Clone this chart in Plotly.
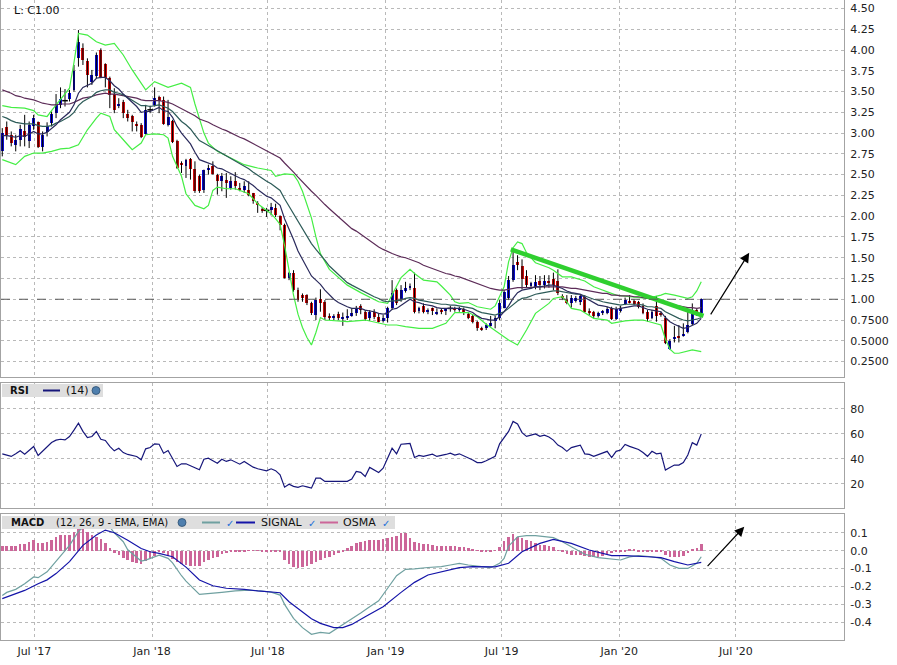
import numpy as np
import pandas as pd
import plotly.graph_objects as go

START = pd.Timestamp("2017-05-12")   # first weekly bar

opens = [2.78,3.07,2.98,2.86,2.92,3.03,2.90,3.08,3.13,2.83,
3.01,3.12,3.24,3.34,3.39,3.41,3.52,3.90,4.02,3.87,
3.62,3.69,4.00,3.83,3.66,3.47,3.33,3.37,3.23,3.20,
3.11,3.10,2.99,3.28,3.34,3.44,3.40,3.10,3.15,2.90,
2.64,2.60,2.69,2.57,2.48,2.31,2.56,2.61,2.50,2.42,
2.44,2.34,2.42,2.34,2.31,2.32,2.28,2.16,2.09,2.07,
2.07,2.10,2.00,1.89,1.25,1.32,1.11,1.05,1.05,0.96,
0.81,1.00,0.97,0.80,0.77,0.82,0.77,0.77,0.81,0.83,
0.92,0.85,0.77,0.85,0.79,0.75,0.77,0.89,1.11,0.99,
1.10,1.13,1.13,0.86,0.92,0.85,0.89,0.83,0.87,0.86,
0.89,0.90,0.87,0.88,0.82,0.80,0.73,0.66,0.66,0.68,
0.74,0.78,0.90,1.01,1.23,1.45,1.40,1.28,1.16,1.15,
1.22,1.17,1.22,1.24,1.22,1.04,1.00,0.95,0.99,0.97,
1.03,0.86,0.85,0.80,0.83,0.84,0.89,0.76,0.86,0.94,
0.98,0.98,0.97,0.92,0.85,0.78,0.92,0.84,0.78,0.40,
0.52,0.56,0.56,0.60,0.70,0.87,0.84]
highs = [3.06,3.14,3.02,2.98,3.10,3.22,3.14,3.22,3.14,3.02,
3.13,3.26,3.47,3.55,3.53,3.52,3.82,4.24,4.08,3.90,
3.76,3.97,4.02,3.84,3.68,3.54,3.42,3.40,3.28,3.22,
3.14,3.12,3.34,3.33,3.55,3.45,3.44,3.40,3.16,2.92,
2.66,2.69,2.70,2.66,2.50,2.56,2.62,2.66,2.51,2.52,
2.52,2.48,2.53,2.40,2.42,2.42,2.28,2.18,2.11,2.10,
2.16,2.15,2.01,1.91,1.33,1.35,1.14,1.07,1.06,0.97,
1.02,1.12,0.99,0.83,0.82,0.85,0.84,0.88,0.89,0.92,
0.94,0.87,0.87,0.88,0.83,0.81,0.91,1.23,1.13,1.17,
1.21,1.19,1.32,0.91,0.95,0.89,0.90,0.89,0.89,0.89,
0.92,0.91,0.91,0.90,0.84,0.81,0.74,0.67,0.71,0.80,
0.80,0.99,1.11,1.28,1.59,1.53,1.48,1.35,1.21,1.29,
1.28,1.29,1.29,1.32,1.36,1.06,1.05,1.05,1.04,1.06,
1.05,0.89,0.86,0.85,0.87,0.91,0.91,0.91,0.92,1.02,
1.05,1.00,0.98,0.95,0.87,0.87,1.04,0.85,0.80,0.52,
0.68,0.69,0.71,0.85,0.95,0.89,1.01]
lows = [2.72,2.92,2.84,2.78,2.84,2.84,2.82,3.04,2.82,2.78,
2.96,3.08,3.18,3.30,3.32,3.38,3.50,3.80,3.82,3.55,
3.58,3.66,3.66,3.55,3.30,3.24,3.30,3.18,3.14,3.02,
3.02,2.94,2.98,3.24,3.32,3.24,3.10,3.08,2.88,2.57,
2.52,2.46,2.44,2.28,2.28,2.28,2.50,2.50,2.26,2.30,
2.22,2.32,2.32,2.30,2.28,2.24,2.15,2.04,2.04,1.99,
2.01,1.99,1.83,1.25,1.23,1.09,0.97,0.97,0.93,0.81,
0.75,0.85,0.75,0.75,0.75,0.75,0.68,0.75,0.79,0.80,
0.82,0.74,0.74,0.76,0.72,0.72,0.72,0.87,0.93,0.97,
1.08,1.11,0.83,0.83,0.83,0.82,0.81,0.81,0.82,0.81,
0.85,0.85,0.85,0.81,0.76,0.71,0.62,0.62,0.63,0.67,
0.65,0.75,0.89,0.99,1.21,1.35,1.12,1.14,1.13,1.12,
1.11,1.13,1.14,1.11,1.05,0.99,0.94,0.90,0.96,0.93,
0.84,0.81,0.77,0.78,0.81,0.82,0.75,0.75,0.84,0.93,
0.95,0.93,0.89,0.82,0.73,0.76,0.73,0.79,0.46,0.39,
0.48,0.48,0.55,0.59,0.69,0.80,0.83]
closes = [3.00,2.98,2.88,2.92,3.05,2.95,3.10,3.18,2.83,2.98,
3.09,3.23,3.35,3.41,3.39,3.48,3.75,4.10,3.88,3.70,
3.70,3.94,3.68,3.66,3.46,3.28,3.35,3.24,3.18,3.13,
3.09,2.95,3.28,3.28,3.42,3.39,3.11,3.19,2.89,2.58,
2.62,2.68,2.57,2.30,2.30,2.55,2.58,2.51,2.42,2.48,
2.40,2.42,2.36,2.32,2.36,2.26,2.18,2.14,2.07,2.07,
2.11,2.02,1.89,1.25,1.32,1.11,0.99,1.02,0.95,0.83,
0.99,0.95,0.79,0.77,0.80,0.78,0.79,0.80,0.83,0.90,
0.87,0.76,0.85,0.79,0.73,0.77,0.89,1.08,0.95,1.11,
1.13,1.16,0.85,0.89,0.85,0.87,0.87,0.85,0.85,0.88,
0.89,0.87,0.90,0.83,0.78,0.73,0.65,0.64,0.69,0.71,
0.77,0.96,1.09,1.23,1.41,1.41,1.24,1.17,1.19,1.21,
1.17,1.22,1.20,1.17,1.07,1.02,0.95,1.01,1.01,1.04,
0.85,0.84,0.80,0.83,0.86,0.88,0.76,0.88,0.89,0.99,
0.96,0.94,0.91,0.84,0.76,0.85,0.80,0.81,0.47,0.50,
0.55,0.54,0.58,0.69,0.84,0.81,1.00]

ma_fast = [2.97,2.97,2.96,2.95,2.97,2.96,2.99,3.02,2.99,2.99,
3.01,3.05,3.10,3.16,3.20,3.25,3.34,3.48,3.55,3.58,
3.60,3.66,3.67,3.67,3.63,3.57,3.53,3.47,3.42,3.37,
3.32,3.25,3.26,3.26,3.29,3.31,3.27,3.26,3.19,3.08,
3.00,2.94,2.87,2.77,2.68,2.66,2.64,2.62,2.58,2.57,
2.54,2.51,2.49,2.46,2.44,2.41,2.37,2.32,2.28,2.24,
2.22,2.18,2.13,1.97,1.85,1.72,1.58,1.48,1.39,1.28,
1.23,1.18,1.11,1.05,1.00,0.96,0.93,0.91,0.89,0.89,
0.89,0.87,0.86,0.85,0.83,0.82,0.83,0.88,0.89,0.93,
0.97,1.00,0.97,0.96,0.94,0.93,0.92,0.90,0.89,0.89,
0.89,0.89,0.89,0.88,0.86,0.84,0.80,0.77,0.76,0.75,
0.75,0.79,0.85,0.92,1.01,1.08,1.11,1.12,1.13,1.15,
1.15,1.16,1.17,1.17,1.15,1.13,1.10,1.08,1.07,1.06,
1.02,0.99,0.96,0.93,0.92,0.91,0.89,0.88,0.89,0.90,
0.91,0.92,0.92,0.90,0.88,0.87,0.86,0.85,0.78,0.73,
0.70,0.67,0.65,0.66,0.69,0.71,0.77]
ma_mid = [3.20,3.18,3.15,3.13,3.12,3.11,3.11,3.11,3.09,3.08,
3.08,3.09,3.12,3.14,3.17,3.20,3.25,3.33,3.38,3.41,
3.44,3.49,3.51,3.52,3.52,3.49,3.48,3.46,3.43,3.40,
3.37,3.33,3.33,3.32,3.33,3.34,3.32,3.30,3.26,3.20,
3.14,3.10,3.05,2.98,2.91,2.88,2.85,2.82,2.78,2.75,
2.72,2.69,2.66,2.63,2.60,2.57,2.53,2.49,2.45,2.42,
2.39,2.35,2.31,2.21,2.12,2.03,1.93,1.84,1.76,1.67,
1.60,1.54,1.47,1.40,1.35,1.29,1.24,1.20,1.17,1.14,
1.12,1.08,1.06,1.03,1.01,0.98,0.97,0.98,0.98,0.99,
1.01,1.02,1.01,0.99,0.98,0.97,0.96,0.95,0.94,0.94,
0.93,0.93,0.92,0.91,0.90,0.89,0.86,0.84,0.83,0.82,
0.81,0.83,0.85,0.89,0.94,0.98,1.01,1.02,1.04,1.06,
1.07,1.08,1.09,1.10,1.10,1.09,1.08,1.07,1.06,1.06,
1.04,1.02,1.00,0.99,0.97,0.96,0.95,0.94,0.93,0.94,
0.94,0.94,0.94,0.93,0.91,0.91,0.90,0.89,0.85,0.82,
0.79,0.77,0.75,0.74,0.75,0.76,0.78]
ma_slow = [3.52,3.50,3.48,3.45,3.44,3.42,3.41,3.40,3.38,3.36,
3.35,3.34,3.34,3.35,3.35,3.35,3.37,3.40,3.42,3.43,
3.44,3.46,3.47,3.48,3.47,3.47,3.46,3.45,3.44,3.43,
3.42,3.40,3.39,3.39,3.39,3.39,3.38,3.37,3.35,3.32,
3.30,3.27,3.24,3.21,3.17,3.15,3.13,3.10,3.07,3.05,
3.03,3.00,2.98,2.95,2.93,2.90,2.87,2.84,2.81,2.79,
2.76,2.73,2.70,2.64,2.59,2.53,2.47,2.41,2.36,2.30,
2.25,2.19,2.14,2.09,2.04,1.99,1.94,1.89,1.85,1.82,
1.78,1.74,1.70,1.67,1.63,1.60,1.57,1.55,1.53,1.51,
1.50,1.48,1.46,1.44,1.41,1.39,1.37,1.35,1.33,1.31,
1.30,1.28,1.27,1.25,1.23,1.21,1.19,1.17,1.15,1.13,
1.12,1.11,1.11,1.12,1.13,1.14,1.14,1.14,1.14,1.15,
1.15,1.15,1.15,1.15,1.15,1.15,1.14,1.13,1.13,1.12,
1.11,1.10,1.09,1.08,1.07,1.07,1.05,1.05,1.04,1.04,
1.04,1.03,1.03,1.02,1.01,1.00,1.00,0.99,0.97,0.95,
0.93,0.92,0.91,0.90,0.90,0.89,0.90]

bb_up_weeks = [0,2,5,7,8,10,11,13,15,16,17,19,21,23,25,27,29,32,34,37,
40,42,43,45,46,48,51,54,57,60,61,63,65,66,67,68,69,70,71,73,77,
80,84,86,87,89,91,92,94,97,98,100,101,102,104,106,109,110,112,113,114,
115,116,117,119,122,123,125,127,130,132,135,137,140,144,147,148,150,153,154,155,156]
bb_up = [3.33,3.31,3.30,3.27,3.22,3.20,3.27,3.40,3.54,3.85,4.20,4.18,4.10,4.06,4.08,3.94,3.76,3.52,3.62,3.55,
3.60,3.55,3.35,3.00,2.88,2.78,2.70,2.62,2.58,2.55,2.48,2.51,2.50,2.42,2.30,2.15,1.98,1.75,1.55,1.36,1.17,
1.08,0.97,0.95,1.05,1.26,1.36,1.31,1.23,1.21,1.16,1.05,0.97,0.95,0.96,0.91,0.88,0.92,1.15,1.45,1.62,
1.69,1.67,1.56,1.44,1.38,1.35,1.27,1.27,1.22,1.15,1.09,1.05,1.03,1.01,1.05,1.07,1.05,1.01,1.03,1.10,1.21]
bb_lo_weeks = [0,1,3,5,7,9,11,13,15,17,19,21,22,24,25,28,29,31,32,34,
36,37,38,40,41,43,45,46,47,48,50,52,55,57,60,61,62,63,64,65,
66,67,68,69,70,71,72,77,81,84,86,88,90,93,96,99,100,101,104,106,
108,110,111,113,115,117,119,122,123,125,126,127,129,132,135,136,139,141,143,147,
148,149,150,151,154,156]
bb_lo = [2.68,2.66,2.62,2.72,2.76,2.76,2.78,2.81,2.82,2.86,3.04,3.18,3.24,3.20,3.04,2.86,2.80,2.88,2.98,2.99,
2.98,2.94,2.72,2.48,2.27,2.13,2.09,2.13,2.31,2.35,2.33,2.33,2.27,2.15,2.03,1.97,1.90,1.65,1.35,1.05,
0.82,0.66,0.54,0.45,0.60,0.78,0.75,0.73,0.75,0.71,0.69,0.69,0.67,0.65,0.65,0.71,0.78,0.84,0.84,0.79,
0.70,0.62,0.59,0.51,0.45,0.63,0.83,0.95,1.01,1.03,0.97,0.89,0.87,0.77,0.75,0.71,0.74,0.75,0.75,0.69,
0.52,0.40,0.35,0.35,0.39,0.37]

trend_weeks = [113.5, 156.5]
trend_vals = [1.60, 0.80]
price_arrow_weeks = [157.9, 166.7]
price_arrow_vals = [0.80, 1.56]

rsi14 = [44.0,43.0,41.9,44.0,46.4,43.7,46.5,49.9,42.7,46.0,
49.5,53.1,55.0,55.7,55.2,57.9,63.0,68.5,62.0,57.1,
57.9,61.9,55.7,54.7,50.0,46.4,48.5,45.0,43.5,42.7,
41.9,39.2,48.0,49.1,52.0,51.7,44.5,46.7,40.0,33.9,
36.0,36.0,34.5,33.1,31.2,39.7,40.5,38.5,36.5,39.7,
37.9,39.2,37.5,35.7,37.9,35.5,33.3,32.0,31.2,30.4,
32.0,30.5,27.2,17.3,19.7,17.9,17.1,18.4,17.5,16.5,
24.5,24.5,21.9,21.9,21.9,21.9,21.9,21.9,23.7,29.9,
29.1,25.9,33.1,31.0,29.1,32.5,40.0,48.5,44.0,51.7,
52.0,52.3,41.1,42.7,41.9,42.5,43.7,41.9,42.4,43.5,
44.5,43.0,44.0,42.5,41.0,39.0,37.0,37.0,38.5,40.0,
42.0,52.0,57.0,62.0,70.0,68.0,61.0,58.0,59.0,60.0,
58.0,59.0,57.5,55.0,51.0,49.0,46.0,49.0,50.0,51.0,
44.0,43.5,42.0,43.5,45.0,46.0,41.0,46.0,47.0,51.5,
50.0,49.0,47.5,45.0,42.0,46.0,44.0,44.5,31.0,33.0,
35.0,35.0,37.0,43.0,53.0,51.0,60.0]

macd_weeks = [0,1,3,5,7,8,10,11,13,15,17,20,22,23,25,27,28,31,32,34,
35,37,38,40,41,44,46,49,52,55,58,60,62,63,65,67,69,71,73,75,
77,80,82,84,86,88,90,92,95,98,100,102,104,107,109,111,112,113,115,117,
119,123,125,127,130,133,138,140,142,145,147,149,151,153,155,156]
macd_vals = [-0.250,-0.233,-0.216,-0.185,-0.147,-0.151,-0.118,-0.088,-0.030,0.030,
0.108,0.168,0.177,0.165,0.100,0.050,0.005,-0.058,-0.053,-0.036,
-0.025,-0.043,-0.068,-0.140,-0.170,-0.244,-0.238,-0.233,-0.225,-0.220,
-0.226,-0.232,-0.248,-0.300,-0.378,-0.430,-0.467,-0.456,-0.462,-0.430,
-0.395,-0.348,-0.313,-0.280,-0.210,-0.140,-0.104,-0.102,-0.094,-0.089,
-0.080,-0.071,-0.080,-0.089,-0.095,-0.071,-0.043,0.025,0.078,0.084,
0.084,0.073,0.050,0.022,-0.020,-0.039,-0.052,-0.035,-0.028,-0.034,
-0.043,-0.080,-0.099,-0.099,-0.071,-0.034]
signal_weeks = [0,2,5,8,10,12,15,18,21,23,25,28,31,33,35,38,41,44,47,50,
54,57,60,62,64,67,69,71,74,76,78,81,85,89,92,95,98,100,102,105,
110,113,116,120,123,127,131,136,139,144,147,150,153,156]
signal_vals = [-0.268,-0.250,-0.222,-0.185,-0.163,-0.128,-0.061,0.030,0.088,0.115,
0.100,0.058,0.012,-0.006,-0.015,-0.034,-0.092,-0.164,-0.196,-0.210,
-0.216,-0.225,-0.233,-0.235,-0.285,-0.340,-0.380,-0.406,-0.430,-0.430,
-0.412,-0.369,-0.313,-0.233,-0.177,-0.136,-0.117,-0.105,-0.095,-0.089,
-0.090,-0.070,-0.006,0.041,0.063,0.041,0.004,-0.028,-0.028,-0.034,
-0.039,-0.061,-0.080,-0.065]
osma = [0.026,0.026,0.026,0.028,0.035,0.039,0.050,0.060,0.045,0.045,
0.050,0.060,0.074,0.088,0.088,0.088,0.106,0.130,0.128,0.106,
0.088,0.074,0.065,0.041,0.013,-0.011,-0.024,-0.039,-0.052,-0.061,
-0.071,-0.073,-0.058,-0.043,-0.028,-0.006,-0.015,-0.028,-0.047,-0.065,
-0.076,-0.080,-0.084,-0.086,-0.086,-0.065,-0.052,-0.039,-0.034,-0.020,
-0.015,-0.009,-0.006,-0.003,-0.002,-0.001,0.001,0.001,-0.002,-0.002,
-0.002,-0.003,-0.006,-0.052,-0.076,-0.089,-0.095,-0.089,-0.086,-0.076,
-0.065,-0.052,-0.043,-0.034,-0.024,-0.015,-0.006,0.017,0.028,0.041,
0.050,0.056,0.060,0.060,0.060,0.063,0.069,0.078,0.084,0.097,
0.097,0.069,0.050,0.041,0.035,0.035,0.032,0.028,0.026,0.026,
0.026,0.026,0.022,0.019,0.013,0.004,0.001,-0.006,-0.006,-0.002,
0.002,0.022,0.054,0.078,0.091,0.078,0.069,0.060,0.054,0.041,
0.032,0.032,0.028,0.019,0.001,-0.009,-0.019,-0.024,-0.024,-0.024,
-0.028,-0.034,-0.034,-0.034,-0.028,-0.020,-0.015,-0.009,-0.006,-0.002,
0.004,0.004,-0.002,-0.002,-0.002,-0.006,-0.006,-0.006,-0.024,-0.034,
-0.034,-0.034,-0.028,-0.015,0.009,0.017,0.037]
macd_arrow_weeks = [157.1, 165.6]
macd_arrow_vals = [-0.095, 0.134]

x_tickvals = ["2017-07-01", "2018-01-01", "2018-07-01", "2019-01-01",
              "2019-07-01", "2020-01-01", "2020-07-01"]
x_ticktext = ["Jul '17", "Jan '18", "Jul '18", "Jan '19", "Jul '19", "Jan '20", "Jul '20"]
price_tickvals = [0.25, 0.5, 0.75, 1.0, 1.25, 1.5, 1.75, 2.0, 2.25, 2.5, 2.75,
                  3.0, 3.25, 3.5, 3.75, 4.0, 4.25, 4.5]
price_ticktext = ["0.2500", "0.5000", "0.7500", "1.00", "1.25", "1.50", "1.75", "2.00",
                  "2.25", "2.50", "2.75", "3.00", "3.25", "3.50", "3.75", "4.00", "4.25", "4.50"]
rsi_tickvals = [20, 40, 60, 80]
macd_tickvals = [-0.4, -0.3, -0.2, -0.1, 0.0, 0.1]
macd_ticktext = ["-0.4", "-0.3", "-0.2", "-0.1", "0.0", "0.1"]

# ---------------------------------------------------------------
def wk(weeks):
    return [START + pd.Timedelta(days=7.0 * float(w)) for w in weeks]

def wks(w):
    return (START + pd.Timedelta(days=7.0 * float(w))).strftime("%Y-%m-%d %H:%M:%S")

N = len(closes)
dates = wk(range(N))
o = np.array(opens); c = np.array(closes); h = np.array(highs); l = np.array(lows)

BLUE = "#0a0ad0"; RED = "#d00a0a"
FONT = "DejaVu Sans"
GRID = "#b9b9b9"; FRAME = "#a3a3a3"
DAY_MS = 86400000

body_col = [BLUE if cc > oo else (RED if cc < oo else "#000000") for oo, cc in zip(o, c)]

fig = go.Figure()

# wicks
wx, wy = [], []
for d, lo_, hi_ in zip(dates, l, h):
    wx += [d, d, None]; wy += [lo_, hi_, None]
fig.add_trace(go.Scatter(x=wx, y=wy, mode="lines", line=dict(color="#000000", width=1),
                         xaxis="x", yaxis="y", hoverinfo="skip"))
# bodies
fig.add_trace(go.Bar(x=dates, y=np.abs(c - o), base=np.minimum(o, c), width=4.6 * DAY_MS,
                     marker=dict(color=body_col, line=dict(width=0)), xaxis="x", yaxis="y"))
# doji marks
doji = [i for i in range(N) if o[i] == c[i]]
fig.add_trace(go.Scatter(x=[dates[i] for i in doji], y=[c[i] for i in doji], mode="markers",
                         marker=dict(symbol="line-ew", size=4, line=dict(color="#000", width=1.5)),
                         xaxis="x", yaxis="y"))

# bollinger + moving averages
BB = "#44ee44"
fig.add_trace(go.Scatter(x=wk(bb_up_weeks), y=bb_up, mode="lines", line=dict(color=BB, width=1.2),
                         xaxis="x", yaxis="y"))
fig.add_trace(go.Scatter(x=wk(bb_lo_weeks), y=bb_lo, mode="lines", line=dict(color=BB, width=1.2),
                         xaxis="x", yaxis="y"))
fig.add_trace(go.Scatter(x=dates, y=ma_slow, mode="lines", line=dict(color="#5c2c58", width=1.2),
                         xaxis="x", yaxis="y"))
fig.add_trace(go.Scatter(x=dates, y=ma_mid, mode="lines", line=dict(color="#2d5b58", width=1.2),
                         xaxis="x", yaxis="y"))
fig.add_trace(go.Scatter(x=dates, y=ma_fast, mode="lines", line=dict(color="#2a2a5c", width=1.2),
                         xaxis="x", yaxis="y"))
# trend line
fig.add_trace(go.Scatter(x=wk(trend_weeks), y=trend_vals, mode="lines",
                         line=dict(color="#2fcf2f", width=4.5), xaxis="x", yaxis="y"))

# RSI
fig.add_trace(go.Scatter(x=dates, y=rsi14, mode="lines", line=dict(color="#16167a", width=1.2),
                         xaxis="x2", yaxis="y2"))

# MACD
fig.add_trace(go.Bar(x=dates, y=osma, width=4.0 * DAY_MS, marker=dict(color="#cc6699", line=dict(width=0)),
                     xaxis="x3", yaxis="y3"))
fig.add_trace(go.Scatter(x=wk(macd_weeks), y=macd_vals, mode="lines",
                         line=dict(color="#6fa0a0", width=1.2), xaxis="x3", yaxis="y3"))
fig.add_trace(go.Scatter(x=wk(signal_weeks), y=signal_vals, mode="lines",
                         line=dict(color="#1414a8", width=1.2), xaxis="x3", yaxis="y3"))

XR = ["2017-05-10", "2020-12-17"]
xcommon = dict(range=XR, type="date", tickvals=x_tickvals, ticktext=x_ticktext,
               showgrid=True, gridcolor=GRID, griddash="dot", gridwidth=1,
               showline=True, linecolor=FRAME, linewidth=1, mirror=True,
               zeroline=False, fixedrange=True)
ycommon = dict(side="right", showgrid=True, gridcolor=GRID, griddash="dot", gridwidth=1,
               showline=True, linecolor=FRAME, linewidth=1, mirror=True, zeroline=False,
               ticks="", ticklabelstandoff=3, tickfont=dict(family=FONT, size=11, color="#222"))

fig.update_layout(
    width=897, height=665,
    margin=dict(l=1, r=53, t=0, b=25),
    paper_bgcolor="white", plot_bgcolor="white",
    showlegend=False, barmode="overlay", bargap=0,
    font=dict(family=FONT, size=11, color="#222"),
    xaxis=dict(xcommon, domain=[0, 1], anchor="y", showticklabels=False),
    xaxis2=dict(xcommon, domain=[0, 1], anchor="y2", matches="x", showticklabels=False),
    xaxis3=dict(xcommon, domain=[0, 1], anchor="y3", matches="x", showticklabels=True,
                ticks="", ticklabelstandoff=1, tickfont=dict(family=FONT, size=11, color="#222")),
    yaxis=dict(ycommon, domain=[0.4109, 1.0], range=[0.064, 4.602],
               tickvals=price_tickvals, ticktext=price_ticktext),
    yaxis2=dict(ycommon, domain=[0.2063, 0.4016], range=[0.6, 100.8], tickvals=rsi_tickvals),
    yaxis3=dict(ycommon, domain=[0.0, 0.1969], range=[-0.499, 0.205],
                tickvals=macd_tickvals, ticktext=macd_ticktext),
)

# helpers for decorations in pixel terms
def fx(px):
    return (px - 1) / 843.0

def fy(py):
    return (640 - py) / 640.0

shapes = []
# dashed 1.00 level
shapes.append(dict(type="line", xref="x domain", yref="y", x0=0, x1=1, y0=1.0, y1=1.0,
                   line=dict(color="#5a5a5a", width=1, dash="dash")))
# legend boxes
shapes.append(dict(type="rect", xref="paper", yref="paper", x0=fx(2), x1=fx(103), y0=fy(397), y1=fy(384),
                   fillcolor="#dedede", line=dict(width=0), layer="above"))
shapes.append(dict(type="rect", xref="paper", yref="paper", x0=fx(2), x1=fx(395), y0=fy(529), y1=fy(516),
                   fillcolor="#dedede", line=dict(width=0), layer="above"))
# legend line swatches
def swatch(x0, x1, y, col):
    return dict(type="line", xref="paper", yref="paper", x0=fx(x0), x1=fx(x1), y0=fy(y), y1=fy(y),
                line=dict(color=col, width=2), layer="above")
shapes.append(swatch(43, 60, 390.5, "#16167a"))
shapes.append(swatch(202, 220, 522.5, "#6fa0a0"))
shapes.append(swatch(236, 255, 522.5, "#1414a8"))
shapes.append(swatch(320, 338, 522.5, "#cc6699"))
# globe icons
for gx, gy in [(96, 390.5), (182, 522.5)]:
    shapes.append(dict(type="circle", xref="paper", yref="paper", x0=fx(gx - 4), x1=fx(gx + 4),
                       y0=fy(gy + 4), y1=fy(gy - 4), fillcolor="#4f7fae",
                       line=dict(color="#2f4f70", width=0.8), layer="above"))
fig.update_layout(shapes=shapes)

ann = []
def txt(x, y, s, size=11, color="#111"):
    ann.append(dict(xref="paper", yref="paper", x=fx(x), y=fy(y), text=s, showarrow=False,
                    xanchor="left", yanchor="middle", font=dict(family=FONT, size=size, color=color)))
txt(12, 10, "L: C1.00", size=11)
txt(8, 390.5, "<b>RSI</b>", size=10)
txt(64, 390.5, "(14)", size=11)
txt(9, 522.5, "<b>MACD</b>", size=10)
txt(54, 522.5, "(12, 26, 9 - EMA, EMA)", size=10)
txt(259, 522.5, "SIGNAL", size=11)
txt(341, 522.5, "OSMA", size=11)
for cx in (224, 306, 380):
    txt(cx, 523, "✓", size=10, color="#1e6fd9")

# arrows
ann.append(dict(xref="x", yref="y", axref="x", ayref="y",
                x=wks(price_arrow_weeks[1]), y=price_arrow_vals[1],
                ax=wks(price_arrow_weeks[0]), ay=price_arrow_vals[0],
                text="", showarrow=True, arrowhead=2, arrowsize=1.6, arrowwidth=1.2,
                arrowcolor="#000000", standoff=0))
ann.append(dict(xref="x3", yref="y3", axref="x3", ayref="y3",
                x=wks(macd_arrow_weeks[1]), y=macd_arrow_vals[1],
                ax=wks(macd_arrow_weeks[0]), ay=macd_arrow_vals[0],
                text="", showarrow=True, arrowhead=2, arrowsize=1.6, arrowwidth=1.2,
                arrowcolor="#000000", standoff=0))
fig.update_layout(annotations=ann)

fig.write_html("out.html", include_plotlyjs=True, full_html=True,
               config={"displayModeBar": False},
               post_script="document.body.style.margin='0';document.body.style.padding='0';")
